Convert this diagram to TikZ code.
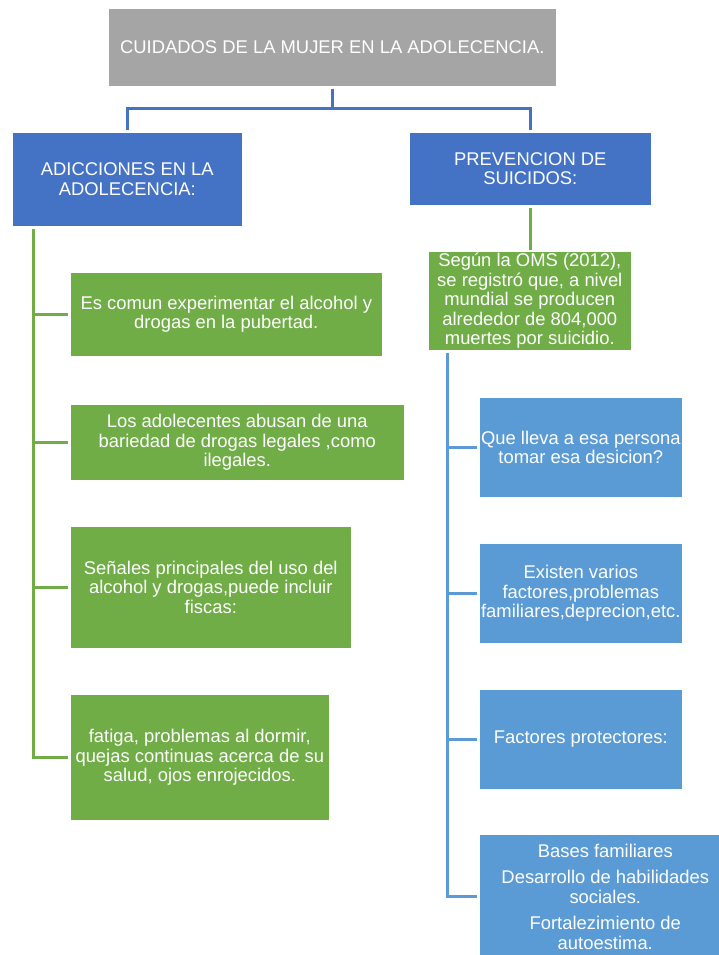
\documentclass[tikz,border=0pt]{standalone}
\usepackage{fontspec}
\setmainfont{Liberation Sans}
\usetikzlibrary{positioning}
\definecolor{titlegray}{HTML}{A5A5A5}
\definecolor{darkblue}{HTML}{4472C4}
\definecolor{leafgreen}{HTML}{70AD47}
\definecolor{lightblue}{HTML}{5B9BD5}
\tikzset{
  box/.style={rectangle, inner sep=0pt, text=white, align=center, draw=white, line width=0.6pt,
    font=\fontsize{18.4}{19.6}\selectfont, anchor=north west},
  titlebox/.style={box, fill=titlegray},
  mainbox/.style={box, fill=darkblue},
  greenbox/.style={box, fill=leafgreen},
  bluebox/.style={box, fill=lightblue},
  link/.style={line width=3pt}
}

\begin{document}
\begin{tikzpicture}[x=1pt, y=-1pt]
  \useasboundingbox (0,0) rectangle (719,955);
  \clip (0,0) rectangle (719,955);
  % top and first level
  \node[titlebox, minimum width=448pt, minimum height=78pt] (title) at (108,8) {CUIDADOS DE LA MUJER EN LA ADOLECENCIA.};
  \node[mainbox, minimum width=230pt, minimum height=94pt] (adicciones) at (12,132) {ADICCIONES EN LA\\ADOLECENCIA:};
  \node[mainbox, minimum width=242pt, minimum height=73pt] (prevencion) at (409,132) {PREVENCION DE\\SUICIDOS:};
  % left branch
  \node[greenbox, minimum width=312pt, minimum height=84pt] (alcohol) at (70,272) {Es comun experimentar el alcohol y\\drogas en la pubertad.};
  \node[greenbox, minimum width=334pt, minimum height=76pt] (abusan) at (70,404) {Los adolecentes abusan de una\\bariedad de drogas legales ,como\\ilegales.};
  \node[greenbox, minimum width=281pt, minimum height=122pt] (senales) at (70,526) {Señales principales del uso del\\alcohol y drogas,puede incluir\\fiscas:};
  \node[greenbox, minimum width=259pt, minimum height=126pt] (fatiga) at (70,694) {fatiga, problemas al dormir,\\quejas continuas acerca de su\\salud, ojos enrojecidos.};
  % right branch
  \node[greenbox, minimum width=203pt, minimum height=99pt] (oms) at (428,251) {Según la OMS (2012),\\se registró que, a nivel\\mundial se producen\\alrededor de 804,000\\muertes por suicidio.};
  \node[bluebox, minimum width=203pt, minimum height=100pt] (decision) at (479,397) {Que lleva a esa persona\\tomar esa desicion?};
  \node[bluebox, minimum width=203pt, minimum height=100pt] (factores) at (479,543) {Existen varios\\factores,problemas\\familiares,deprecion,etc.};
  \node[bluebox, minimum width=203pt, minimum height=100pt] (protectores) at (479,689) {Factores protectores:};
  \node[bluebox, minimum width=252pt, minimum height=125pt] (bases) at (479,834) {Bases familiares\\[7pt]Desarrollo de habilidades\\sociales.\\[7pt]Fortalezimiento de\\autoestima.};

  % connectors
  \draw[link, darkblue, shorten <=2pt, shorten >=2pt] (title.south) -- ++(0,22) -| (adicciones.north);
  \draw[link, darkblue, shorten <=2pt, shorten >=2pt] (title.south) -- ++(0,22) -| (prevencion.north);
  \coordinate (gtrunk) at ([xshift=21pt]adicciones.south west);
  \draw[link, leafgreen, shorten <=2pt, shorten >=2pt] (gtrunk) |- (fatiga.west);
  \foreach \n in {alcohol, abusan, senales}
    \draw[link, leafgreen, shorten >=2pt] (gtrunk |- \n.west) -- (\n.west);
  \draw[link, leafgreen, shorten <=2pt, shorten >=1pt] (prevencion.south) -- (prevencion.south |- oms.north);
  \coordinate (btrunk) at ([xshift=19pt]oms.south west);
  \draw[link, lightblue, shorten <=2pt, shorten >=2pt] (btrunk) |- (bases.west);
  \foreach \n in {decision, factores, protectores}
    \draw[link, lightblue, shorten >=2pt] (btrunk |- \n.west) -- (\n.west);
\end{tikzpicture}
\end{document}
